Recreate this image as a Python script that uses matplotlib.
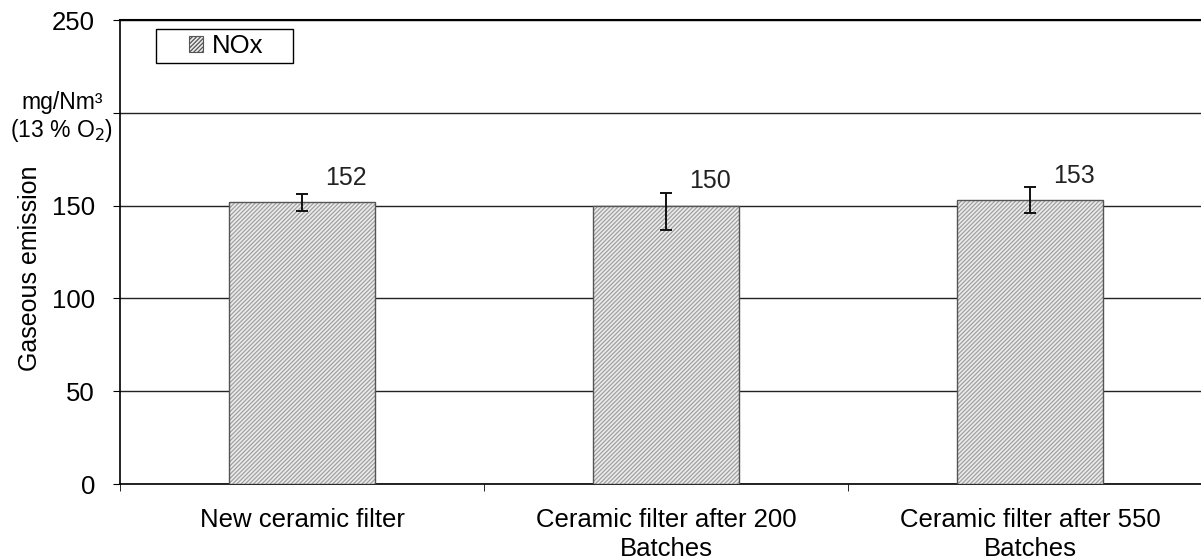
import matplotlib.pyplot as plt
import matplotlib as mpl
from matplotlib.patches import Rectangle

plt.rcParams['font.family'] = ['Liberation Sans', 'DejaVu Sans']
mpl.rcParams['hatch.linewidth'] = 0.9

categories = ["New ceramic filter", "Ceramic filter after 200\nBatches", "Ceramic filter after 550\nBatches"]
nox = [152, 150, 153]
err_low = [5, 13, 7]
err_high = [4, 7, 7]
yticks = [0, 50, 100, 150, 200, 250]
yticklabels = ["0", "50", "100", "150", "", "250"]

fig = plt.figure(figsize=(12.01, 5.6), dpi=100)
ax = fig.add_axes([120 / 1201, 76 / 560, 1092 / 1201, 464 / 560])

x = list(range(len(categories)))
# hatched fill (hatch takes the edge colour), then a dark outline on top
ax.bar(x, nox, width=0.40, color='#ececec', edgecolor='#a0a0a0', linewidth=0,
       hatch='////////', label='NOx', zorder=3)
ax.bar(x, nox, width=0.40, fill=False, edgecolor='#555555', linewidth=1.0, zorder=3.5)
ax.errorbar(x, nox, yerr=[err_low, err_high], fmt='none', ecolor='#111111',
            elinewidth=1.4, capsize=4, capthick=1.4, zorder=4)
for xi, v in zip(x, nox):
    ax.text(xi + 0.12, v + 13, str(v), ha='center', va='center', fontsize=18, color='#222222')

ax.set_xlim(-0.5, 2.5)
ax.set_ylim(0, 250)
ax.set_yticks(yticks)
ax.set_yticklabels(yticklabels, fontsize=18.5)
ax.set_xticks(x)
ax.set_xticklabels(categories, fontsize=18.5, linespacing=1.3)
ax.set_xticks([-0.5, 0.5, 1.5, 2.5], minor=True)
ax.tick_params(axis='x', which='major', length=0, pad=17)
ax.tick_params(axis='x', which='minor', length=5, direction='out')
ax.tick_params(axis='y', length=5, direction='out', pad=13)
ax.yaxis.grid(True, color='#222222', linewidth=1.0, zorder=0)
ax.set_axisbelow(True)
ax.spines['right'].set_visible(False)
ax.spines['top'].set_linewidth(1.5)
ax.spines['left'].set_linewidth(1.2)
ax.spines['bottom'].set_linewidth(1.2)

fig.text(30 / 1201, 1 - 268 / 560, "Gaseous emission", rotation=90, ha='center', va='center', fontsize=18)
fig.text(62 / 1201, 1 - 103 / 560, "mg/Nm³", ha='center', va='center', fontsize=16.5)
fig.text(62 / 1201, 1 - 130 / 560, "(13 % O$_2$)", ha='center', va='center', fontsize=16.5)

# legend box
box = Rectangle((36 / 1092, (484 - 63) / 464), 137 / 1092, 34 / 464, transform=ax.transAxes,
                facecolor='white', edgecolor='black', linewidth=1.0, zorder=5)
ax.add_patch(box)
leg = ax.legend(loc='center', bbox_to_anchor=(106 / 1092, (484 - 46) / 464), fontsize=18.5,
                frameon=False, handlelength=0.55, handleheight=0.55, handletextpad=0.35,
                borderpad=0, borderaxespad=0)
leg.set_zorder(6)
for h in leg.legend_handles:
    h.set_edgecolor('#555555')
    h.set_linewidth(0.8)

fig.savefig('out.png', dpi=100)
